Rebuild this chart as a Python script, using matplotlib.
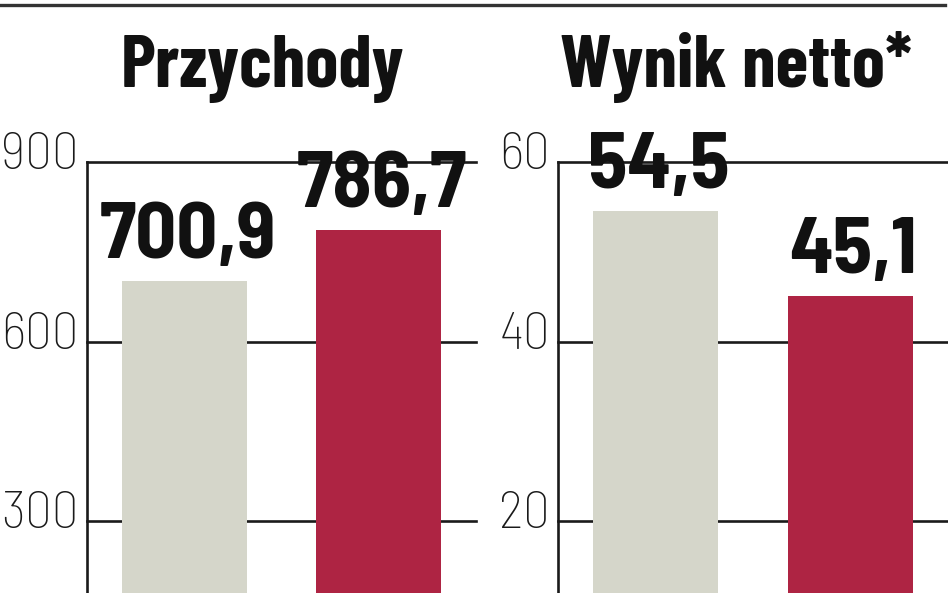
import matplotlib
matplotlib.use("Agg")
import matplotlib.pyplot as plt
import matplotlib.transforms as mtransforms
from matplotlib.lines import Line2D

# ---- data ----
titles = ["Przychody", "Wynik netto*"]
periods = ["prev", "curr"]
revenue = [700.9, 786.7]
net_result = [54.5, 45.1]
revenue_ticks = [300, 600, 900]
net_ticks = [20, 40, 60]
revenue_ylim = (179.7, 900)
net_ylim = (11.98, 60)

bar_colors = ["#d5d6ca", "#ae2443"]
ink = "#1a1a1a"

TITLE_FONT = ["Barlow Condensed", "Roboto Condensed", "DejaVu Sans"]
NUM_FONT = ["Barlow Semi Condensed", "Barlow Condensed", "DejaVu Sans"]

W, H = 948, 593
fig = plt.figure(figsize=(W / 100, H / 100), dpi=100)
fig.patch.set_facecolor("white")

def fmt(v):
    return f"{v:.1f}".replace(".", ",")

def panel(left_px, right_px, values, ticks, ylim, title, title_cx):
    top_px = 162
    ax = fig.add_axes([left_px / W, 0, (right_px - left_px) / W, (H - top_px) / H])
    ax.set_xlim(-0.503, 1.503)
    ax.set_ylim(*ylim)
    ax.set_facecolor("none")
    for s in ["top", "right", "bottom"]:
        ax.spines[s].set_visible(False)
    ax.spines["left"].set_linewidth(1.9)
    ax.spines["left"].set_color(ink)
    ax.set_xticks([])
    ax.set_yticks([])
    for t in ticks:
        ax.axhline(t, color=ink, lw=1.9, zorder=1, clip_on=False)
        tr = mtransforms.offset_copy(ax.get_yaxis_transform(), fig=fig, x=-8, y=-7, units="dots")
        ax.text(0, t, str(t), transform=tr, ha="right", va="baseline",
                fontsize=38.5, family=NUM_FONT, fontweight="light", color=ink)
    x = list(range(len(values)))
    ax.bar(x, values, width=0.644, color=bar_colors, zorder=2)
    for xi, v in zip(x, values):
        tr = mtransforms.offset_copy(ax.transData, fig=fig, x=3, y=23, units="dots")
        ax.text(xi, v, fmt(v), transform=tr, ha="center", va="baseline",
                fontsize=58, family=NUM_FONT, fontweight="bold", color="#111111",
                clip_on=False)
    fig.text(title_cx / W, 1 - 87 / H, title, ha="center", va="baseline",
             fontsize=54, family=TITLE_FONT, fontweight="bold", color="#111111")
    return ax

panel(87, 476, revenue, revenue_ticks, revenue_ylim, titles[0], 263)
panel(558, 948, net_result, net_ticks, net_ylim, titles[1], 736)

fig.add_artist(Line2D([0, 945 / W], [1 - 5 / H, 1 - 5 / H], color="#333333", lw=2.4,
                      transform=fig.transFigure))

fig.savefig("out.png", dpi=100, facecolor="white")
